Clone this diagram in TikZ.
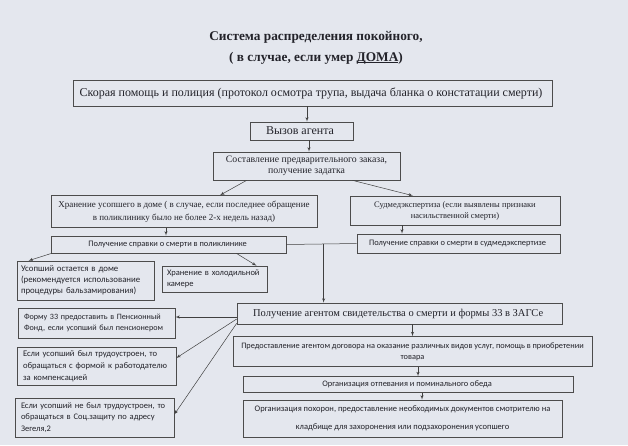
\documentclass[tikz,border=0pt]{standalone}
\usepackage{fontspec}
\setmainfont{Liberation Serif}
\newfontfamily\calibri{Carlito}
\usetikzlibrary{arrows,positioning,calc}
\definecolor{paper}{RGB}{228,231,238}
\definecolor{ink}{RGB}{35,35,42}
\tikzstyle{block} = [rectangle, draw=black!70, line width=0.6pt, text=ink,
  align=center, inner xsep=4pt, inner ysep=0pt]
\tikzstyle{note} = [block, align=left, inner xsep=6pt,
  font=\calibri\fontsize{8.5}{11.5}\selectfont]
\tikzstyle{title} = [text=ink, font=\bfseries\fontsize{13.3}{15}\selectfont]
\tikzstyle{line} = [draw, line width=0.5pt, color=black!75, -latex']
\newcommand{\ulined}[1]{{\setbox0\hbox{#1}\rlap{\rule[-2pt]{\wd0}{0.7pt}}\box0}}

\begin{document}
\begin{tikzpicture}[x=1pt,y=-1pt]

  \fill[paper] (0,0) rectangle (628,445);
  \useasboundingbox (0,0) rectangle (628,445);

  %%%%%%%%%%%%%%%%%%%%%%%%%%%%%%%%%%%%%%%%%%%%%%%%%%%%%%%%%%%%%%
  %                    TITLE                                   %
  %%%%%%%%%%%%%%%%%%%%%%%%%%%%%%%%%%%%%%%%%%%%%%%%%%%%%%%%%%%%%%

  \node [title] (title) at (316,37) {Система распределения покойного,};
  \node [title] (subtitle) at (316,58) {( в случае, если умер \ulined{ДОМА})};

  %%%%%%%%%%%%%%%%%%%%%%%%%%%%%%%%%%%%%%%%%%%%%%%%%%%%%%%%%%%%%%
  %                    FIRST STEPS                             %
  %%%%%%%%%%%%%%%%%%%%%%%%%%%%%%%%%%%%%%%%%%%%%%%%%%%%%%%%%%%%%%

  \node [block, line width=0.9pt,
    minimum width=479pt,
    minimum height=26pt,
    font=\fontsize{12}{13}\selectfont] (ambulance) at (312.5,93) {
    Скорая помощь и полиция (протокол осмотра трупа, выдача бланка о констатации смерти)
  };
  \node [block,
    minimum width=103pt,
    minimum height=18pt,
    font=\fontsize{12}{13}\selectfont] (agent) at (301.5,131) {
    Вызов агента
  };
  \node [block,
    minimum width=187pt,
    minimum height=28pt,
    font=\fontsize{9.8}{11}\selectfont] (order) at (306.5,166) {
    Составление предварительного заказа,\\ получение задатка
  };

  %%%%%%%%%%%%%%%%%%%%%%%%%%%%%%%%%%%%%%%%%%%%%%%%%%%%%%%%%%%%%%
  %                    HOME / FORENSICS                        %
  %%%%%%%%%%%%%%%%%%%%%%%%%%%%%%%%%%%%%%%%%%%%%%%%%%%%%%%%%%%%%%

  \node [block,
    minimum width=266pt,
    minimum height=32pt,
    font=\fontsize{9}{13}\selectfont] (home) at (184,211.5) {
    Хранение усопшего в доме ( в случае, если последнее обращение\\
    в поликлинику было не более 2-х недель назад)
  };
  \node [block,
    minimum width=210pt,
    minimum height=29pt,
    font=\fontsize{8.5}{11}\selectfont] (forensic) at (455,210.5) {
    Судмедэкспертиза (если выявлены признаки\\ насильственной смерти)
  };
  \node [block,
    minimum width=235pt,
    minimum height=17pt,
    font=\calibri\fontsize{8.4}{10}\selectfont] (clinic) at (168.5,244.5) {
    Получение справки о смерти в поликлинике
  };
  \node [block,
    minimum width=203pt,
    minimum height=19pt,
    font=\calibri\fontsize{8.4}{10}\selectfont] (forensiccert) at (458.5,243.5) {
    Получение справки о смерти в судмедэкспертизе
  };
  \node [note, inner xsep=4pt,
    text width=129pt,
    minimum height=39pt,
    font=\calibri\fontsize{8.8}{11}\selectfont] (stayhome) at (85.5,280.5) {
    Усопший остается в доме\\ (рекомендуется использование\\ процедуры бальзамирования)
  };
  \node [note, inner xsep=5pt,
    text width=95pt,
    minimum height=26pt] (fridge) at (214.5,279) {
    Хранение в холодильной\\ камере
  };

  %%%%%%%%%%%%%%%%%%%%%%%%%%%%%%%%%%%%%%%%%%%%%%%%%%%%%%%%%%%%%%
  %                    REGISTRY OFFICE                         %
  %%%%%%%%%%%%%%%%%%%%%%%%%%%%%%%%%%%%%%%%%%%%%%%%%%%%%%%%%%%%%%

  \node [block,
    minimum width=325pt,
    minimum height=21pt,
    font=\fontsize{10.5}{12}\selectfont] (registry) at (399.5,313.5) {
    Получение агентом свидетельства о смерти и формы 33 в ЗАГСе
  };
  \node [note,
    text width=145pt,
    minimum height=30pt,
    font=\calibri\fontsize{8.1}{11}\selectfont] (pension) at (96.5,323) {
    Форму 33 предоставить в Пенсионный\\ Фонд, если усопший был пенсионером
  };
  \node [note,
    text width=147pt,
    minimum height=38pt,
    font=\calibri\fontsize{8.6}{12}\selectfont] (employer) at (96.5,366) {
    Если усопший был трудоустроен, то\\ обращаться с формой к работодателю\\ за компенсацией
  };
  \node [note,
    text width=147pt,
    minimum height=39pt] (unemployed) at (94.5,417.5) {
    Если усопший не был трудоустроен, то\\ обращаться в Соц.защиту по адресу\\ Зегеля,2
  };
  \node [block,
    minimum width=359pt,
    minimum height=30pt,
    font=\calibri\fontsize{8.3}{11}\selectfont] (contract) at (412.5,351.5) {
    Предоставление агентом договора на оказание различных видов услуг, помощь в приобретении\\ товара
  };
  \node [block,
    minimum width=330pt,
    minimum height=16pt,
    font=\calibri\fontsize{8.4}{10}\selectfont] (wake) at (408,384.5) {
    Организация отпевания и поминального обеда
  };
  \node [block,
    minimum width=319pt,
    minimum height=37pt,
    font=\calibri\fontsize{8.5}{18}\selectfont] (funeral) at (402.5,418.5) {
    Организация похорон, предоставление необходимых документов смотрителю на\\
    кладбище для захоронения или подзахоронения усопшего
  };

  %%%%%%%%%%%%%%%%%%%%%%%%%%%%%%%%%%%%%%%%%%%%%%%%%%%%%%%%%%%%%%
  %                    CONNECTORS                              %
  %%%%%%%%%%%%%%%%%%%%%%%%%%%%%%%%%%%%%%%%%%%%%%%%%%%%%%%%%%%%%%

  \path [line] ([xshift=-5.5pt]ambulance.south) -- ([xshift=5.5pt]agent.north);
  \path [line] ([xshift=7.5pt]agent.south) -- ([xshift=2.5pt]order.north);
  \path [line] ([xshift=34pt]order.south west) -- ([xshift=36pt]home.north);
  \path [line] ([xshift=-48pt]order.south east) -- ([xshift=-42pt]forensic.north);
  \path [line] ([xshift=-18pt]home.south) -- ([xshift=-2.5pt]clinic.north);
  \path [line] ([xshift=-53pt]forensic.south) -- ([xshift=-56.5pt]forensiccert.north);
  \path [line] ([xshift=1pt]clinic.south west) -- ([xshift=-57pt]stayhome.north);
  \path [line] ([xshift=-50pt]clinic.south east) -- ([xshift=42pt]fridge.north);

  \draw [line width=0.5pt, color=black!75] (clinic.east) -- (forensiccert.west);
  \coordinate (merge) at ($(clinic.east)!0.53!(forensiccert.west)$);
  \path [line] (merge) -- (merge |- registry.north);

  \path [line] ([yshift=-3.5pt]registry.west) -- ([yshift=6pt]pension.east);
  \path [line] ([yshift=-5.5pt]registry.west) -- ([yshift=8pt]employer.east);
  \path [line] ([yshift=1pt]registry.south west) -- ([yshift=3pt]unemployed.east);
  \path [line] (contract.north |- registry.south) -- (contract.north);
  \path [line] ([xshift=5.5pt]contract.south) -- ([xshift=10pt]wake.north);
  \path [line] ([xshift=14pt]wake.south) -- ([xshift=19.5pt]funeral.north);

\end{tikzpicture}
\end{document}
